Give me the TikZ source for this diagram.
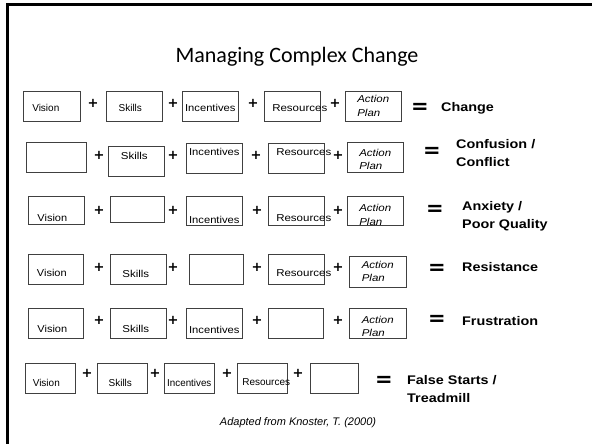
\documentclass[tikz,border=0pt]{standalone}
\usepackage{fontspec}
\usepackage{graphicx}
\setmainfont{Liberation Sans}
\newfontfamily\titlefont{Carlito}
\newfontfamily\signfont{DejaVu Sans Bold}
% stretched words, as in the slide boxes
\newcommand{\wider}[2][1.15]{\scalebox{#1}[1]{#2}}
% word pulled left inside its box (#1 = twice the shift)
\newcommand{\nudge}[2]{\hspace*{-#1}#2}
\newcommand{\actplan}{\begin{tabular}[b]{@{}l@{}}\wider{Action}\\\wider{Plan}\end{tabular}}
\newcommand{\resrc}[1][1.15]{\makebox[40pt][l]{\wider[#1]{Resources}}}

\begin{document}
\begin{tikzpicture}[x=1pt,y=-1pt,
  cell/.style 2 args={draw=black!75,line width=0.6pt,anchor=north west,inner sep=0pt,
    minimum width=56pt,text height=#1,text depth=#2,font=\fontsize{10}{13.5}\selectfont},
  plan/.style={font=\fontsize{10}{13.5}\selectfont\itshape},
  plus/.style={inner sep=0pt,font=\signfont\fontsize{13}{13}\selectfont},
  equals/.style={inner sep=0pt,font=\signfont\fontsize{21}{21}\selectfont},
  result/.style={anchor=west,inner sep=0pt,align=left,font=\fontsize{12.5}{18}\selectfont\bfseries}]
  \useasboundingbox (0,0) rectangle (592,444);
  % slide frame
  \draw[line width=3pt] (592,4.5) -- (7.5,4.5) -- (7.5,444);
  \node[font=\titlefont\fontsize{22}{22}\selectfont] (title) at (297,57) {Managing Complex Change};

  % row 1
  \node[cell={20pt}{10pt},minimum width=57pt] (v1) at (23,91) {\nudge{12pt}{Vision}};
  \node[cell={20pt}{10pt}] (s1) at (106,91) {\nudge{8pt}{Skills}};
  \node[cell={20pt}{10pt}] (i1) at (182,91) {\wider[1.12]{Incentives}};
  \node[cell={20pt}{10pt}] (r1) at (264,91) {\resrc};
  \node[cell={25pt}{5pt},plan] (a1) at (345,91) {\actplan};
  \foreach \x [count=\k] in {93,173,253,335} \node[plus] (p1\k) at (\x,103) {+};
  \node[equals] (e1) at (420,108) {=};
  \node[result] (c1) at (441,108) {\wider{Change}};

  % row 2
  \node[cell={20pt}{10pt},minimum width=60pt] (v2) at (26,142) {};
  \node[cell={13.5pt}{16.5pt}] (s2) at (108,146) {\nudge{4pt}{\wider{Skills}}};
  \node[cell={12.5pt}{17.5pt}] (i2) at (186,143) {\wider[1.12]{Incentives}};
  \node[cell={12.5pt}{17.5pt}] (r2) at (268,143) {\resrc};
  \node[cell={27.5pt}{2.5pt},plan] (a2) at (347,142) {\actplan};
  \foreach \x [count=\k] in {99,173,256,338} \node[plus] (p2\k) at (\x,155) {+};
  \node[equals] (e2) at (432,152) {=};
  \node[result] (c2) at (456,153.5) {\wider{Confusion /}\\\wider{Conflict}};

  % row 3
  \node[cell={25.5pt}{2.5pt}] (v3) at (28,196) {\nudge{8pt}{\wider[1.1]{Vision}}};
  \node[cell={20pt}{6pt},minimum width=54pt] (s3) at (110,196) {};
  \node[cell={27pt}{2pt}] (i3) at (186,196) {\wider[1.12]{Incentives}};
  \node[cell={25.5pt}{3.5pt}] (r3) at (268,196) {\resrc};
  \node[cell={29pt}{0pt},plan] (a3) at (347,196) {\actplan};
  \foreach \x [count=\k] in {99,173,257,338} \node[plus] (p3\k) at (\x,210) {+};
  \node[equals] (e3) at (435,210) {=};
  \node[result] (c3) at (462,216) {\wider{Anxiety /}\\\wider{Poor Quality}};

  % row 4
  \node[cell={22.5pt}{7.5pt},minimum width=55pt] (v4) at (28,254) {\nudge{8pt}{\wider[1.1]{Vision}}};
  \node[cell={23.5pt}{6.5pt}] (s4) at (110,254) {\nudge{5pt}{\wider{Skills}}};
  \node[cell={20pt}{10pt},minimum width=54pt] (i4) at (189,254) {};
  \node[cell={22.5pt}{7.5pt}] (r4) at (268,254) {\resrc};
  \node[cell={25.5pt}{5.5pt},plan,minimum width=57pt] (a4) at (349,256) {\actplan};
  \foreach \x [count=\k] in {99,173,257,338} \node[plus] (p4\k) at (\x,267) {+};
  \node[equals] (e4) at (437,269) {=};
  \node[result] (c4) at (462,267) {\wider{Resistance}};

  % row 5
  \node[cell={24.5pt}{5.5pt},minimum width=55pt] (v5) at (28,308) {\nudge{7pt}{\wider[1.1]{Vision}}};
  \node[cell={24.5pt}{5.5pt}] (s5) at (110,308) {\nudge{5pt}{\wider{Skills}}};
  \node[cell={25.5pt}{4.5pt}] (i5) at (186,308) {\wider[1.12]{Incentives}};
  \node[cell={20pt}{10pt},minimum width=55pt] (r5) at (268,308) {};
  \node[cell={28.5pt}{1.5pt},plan,minimum width=57pt] (a5) at (349,308) {\actplan};
  \foreach \x [count=\k] in {99,173,257,338} \node[plus] (p5\k) at (\x,320) {+};
  \node[equals] (e5) at (437,320) {=};
  \node[result] (c5) at (462,321) {\wider{Frustration}};

  % row 6
  \node[cell={23.5pt}{6.5pt},minimum width=50pt] (v6) at (25,363) {\nudge{8pt}{Vision}};
  \node[cell={23.5pt}{6.5pt},minimum width=50pt] (s6) at (97,363) {\nudge{4pt}{Skills}};
  \node[cell={23.5pt}{6.5pt},minimum width=50pt] (i6) at (164,363) {\wider[0.98]{Incentives}};
  \node[cell={22.5pt}{7.5pt},minimum width=50pt] (r6) at (237,363) {\resrc[1]};
  \node[cell={20pt}{10pt},minimum width=48pt] (a6) at (310,363) {};
  \foreach \x [count=\k] in {87,155,227,298} \node[plus] (p6\k) at (\x,373) {+};
  \node[equals] (e6) at (384,381) {=};
  \node[result] (c6) at (407,389.5) {\wider{False Starts /}\\\wider{Treadmill}};

  \node[font=\fontsize{11}{11}\selectfont\itshape] (src) at (298,423) {Adapted from Knoster, T. (2000)};
\end{tikzpicture}
\end{document}
